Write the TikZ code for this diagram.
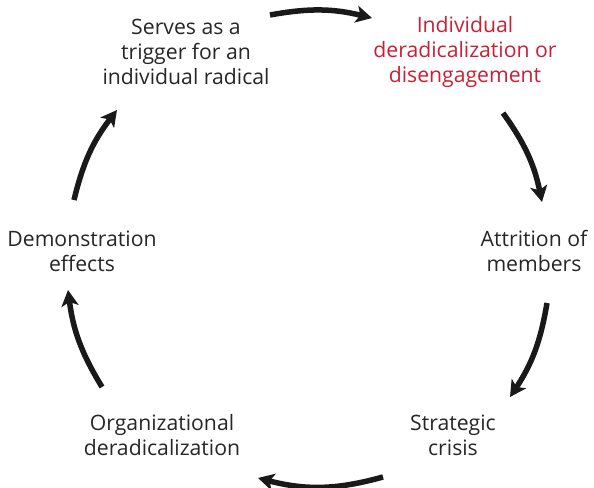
\documentclass[tikz,border=0pt]{standalone}
\usepackage{fontspec}
\setmainfont{Open Sans}
\usetikzlibrary{arrows.meta}
\definecolor{stagered}{RGB}{200,32,56}

\begin{document}
\begin{tikzpicture}[x=1pt,y=1pt,
  stage/.style={align=center,inner sep=0pt,text=black!85,
  font=\fontsize{21.2}{25}\selectfont},
  cycle arrow/.style={-{Stealth[length=16pt,width=17pt,inset=4pt]},
  line width=5.5pt,black!90}]
  \useasboundingbox (0,0) rectangle (594,-487);

  \node[stage] (trig) at (186,-52) {Serves as a\\trigger for an\\individual radical};
  \node[stage,text=stagered] (indiv) at (465,-52) {Individual\\deradicalization or\\disengagement};
  \node[stage] (attr) at (534,-251) {Attrition of\\members};
  \node[stage] (crisis) at (453,-435) {Strategic\\crisis};
  \node[stage] (org) at (162,-435) {Organizational\\deradicalization};
  \node[stage] (demo) at (82,-251) {Demonstration\\effects};

  % arrow ends, clockwise round the cycle
  \coordinate (s1) at (270,-15);  \coordinate (e1) at (372,-18);
  \coordinate (s2) at (503,-113); \coordinate (e2) at (542,-202);
  \coordinate (s3) at (547,-303); \coordinate (e3) at (510,-397);
  \coordinate (s4) at (383,-477); \coordinate (e4) at (258,-478);
  \coordinate (s5) at (102,-387); \coordinate (e5) at (68,-290);
  \coordinate (s6) at (74,-200);  \coordinate (e6) at (117,-110);

  \draw[cycle arrow] (s1) to[bend left=12] (e1);
  \draw[cycle arrow] (s2) to[bend left=12] (e2);
  \draw[cycle arrow] (s3) to[bend left=12] (e3);
  \draw[cycle arrow] (s4) to[bend left=15] (e4);
  \draw[cycle arrow] (s5) to[bend left=12] (e5);
  \draw[cycle arrow] (s6) to[bend left=12] (e6);
\end{tikzpicture}
\end{document}
